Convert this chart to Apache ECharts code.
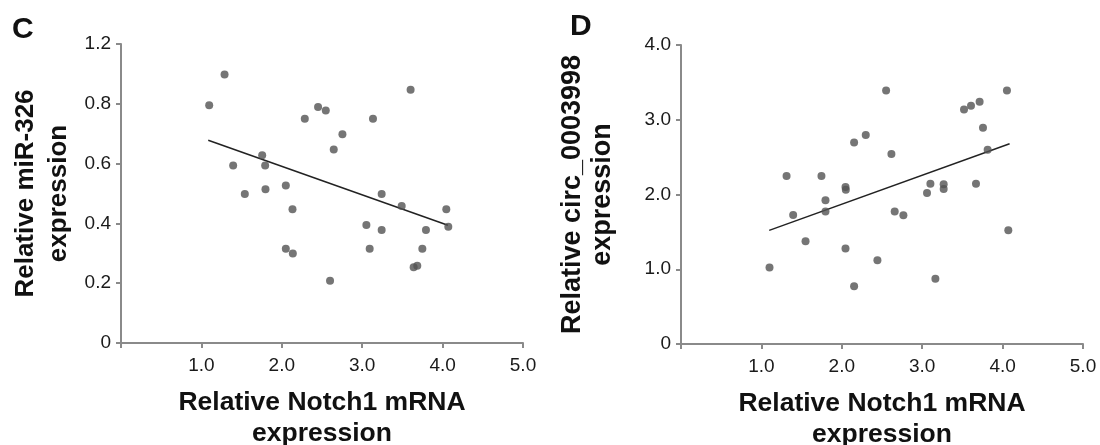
<!DOCTYPE html>
<html>
<head>
<meta charset="utf-8">
<script src="https://cdn.jsdelivr.net/npm/echarts@6/dist/echarts.min.js"></script>
<style>
html,body{margin:0;padding:0;background:#fff;}
#chart{width:1100px;height:445px;}
</style>
</head>
<body>
<div id="chart"></div>
<script>
// Panel C: Notch1 mRNA (x) vs miR-326 (y)
var pointsC = [
  [1.097,0.795],[1.288,0.898],[1.395,0.594],[1.540,0.498],[1.756,0.628],
  [1.793,0.594],[1.797,0.514],[2.050,0.527],[2.133,0.447],[2.050,0.315],
  [2.137,0.299],[2.286,0.750],[2.451,0.789],[2.547,0.778],[2.600,0.208],
  [2.646,0.647],[2.754,0.698],[3.052,0.395],[3.093,0.315],[3.134,0.750],
  [3.242,0.498],[3.242,0.378],[3.491,0.458],[3.602,0.847],[3.640,0.253],
  [3.685,0.258],[3.748,0.315],[3.793,0.378],[4.046,0.447],[4.071,0.389]
];
var trendC = [[1.085,0.678],[4.066,0.394]];
// Panel D: Notch1 mRNA (x) vs circ_0003998 (y)
var pointsD = [
  [1.101,1.024],[1.313,2.247],[1.395,1.727],[1.549,1.375],[1.747,2.247],
  [1.797,1.923],[1.797,1.771],[2.046,2.100],[2.050,2.065],[2.046,1.277],
  [2.153,2.697],[2.153,0.774],[2.298,2.795],[2.443,1.121],[2.551,3.391],
  [2.617,2.541],[2.658,1.771],[2.766,1.722],[3.060,2.020],[3.102,2.145],
  [3.164,0.872],[3.267,2.136],[3.267,2.074],[3.520,3.138],[3.607,3.187],
  [3.714,3.240],[3.669,2.145],[3.756,2.893],[3.814,2.599],[4.054,3.391],
  [4.071,1.522]
];
var trendD = [[1.097,1.52],[4.087,2.68]];

// Tick labels as printed in the figure
var xTickLabels = ['', '1.0', '2.0', '3.0', '4.0', '5.0'];
var yTickLabelsC = ['0', '0.2', '0.4', '0.6', '0.8', '1.2'];
var yTickLabelsD = ['0', '1.0', '2.0', '3.0', '4.0'];

var xTitle = 'Relative Notch1 mRNA\nexpression';
var yTitleC = 'Relative miR-326\nexpression';
var yTitleD = 'Relative circ_0003998\nexpression';
var panelLabels = ['C', 'D'];

var FONT = '"Liberation Sans", Arial, sans-serif';
var AXIS_COLOR = '#8a8a8a';
var DOT_COLOR = '#525252';

function xAxisCfg(gridIndex) {
  return {
    gridIndex: gridIndex, type: 'value', min: 0, max: 5, interval: 1,
    axisLine: {show: true, onZero: false, lineStyle: {color: AXIS_COLOR, width: 2}},
    axisTick: {show: true, inside: false, length: 5, lineStyle: {color: AXIS_COLOR, width: 2}},
    splitLine: {show: false},
    axisLabel: {
      color: '#1a1a1a', fontSize: 19, fontFamily: FONT, margin: 13,
      formatter: function (v) { return xTickLabels[Math.round(v)]; }
    },
    name: xTitle, nameLocation: 'middle', nameGap: 44,
    nameTextStyle: {color: '#111', fontSize: 26.5, fontWeight: 'bold', fontFamily: FONT, lineHeight: 31}
  };
}

function yAxisCfg(gridIndex, max, interval, labels, title, gap, fs, lh) {
  return {
    gridIndex: gridIndex, type: 'value', min: 0, max: max, interval: interval,
    axisLine: {show: true, onZero: false, lineStyle: {color: AXIS_COLOR, width: 2}},
    axisTick: {show: true, inside: false, length: 5, lineStyle: {color: AXIS_COLOR, width: 2}},
    splitLine: {show: false},
    axisLabel: {
      color: '#1a1a1a', fontSize: 19, fontFamily: FONT, margin: 10,
      formatter: function (v) { return labels[Math.round(v / interval)]; }
    },
    name: title, nameLocation: 'middle', nameGap: gap, nameRotate: 90,
    nameTextStyle: {color: '#111', fontSize: fs, fontWeight: 'bold', fontFamily: FONT, lineHeight: lh}
  };
}

var chart = echarts.init(document.getElementById('chart'), null, {renderer: 'canvas'});
chart.setOption({
  backgroundColor: '#ffffff',
  animation: false,
  grid: [
    {left: 121, top: 44, width: 402, height: 299, containLabel: false, outerBoundsMode: 'none'},
    {left: 681, top: 45, width: 402, height: 299, containLabel: false, outerBoundsMode: 'none'}
  ],
  xAxis: [xAxisCfg(0), xAxisCfg(1)],
  yAxis: [
    yAxisCfg(0, 1.0, 0.2, yTickLabelsC, yTitleC, 46, 26, 33),
    yAxisCfg(1, 4, 1, yTickLabelsD, yTitleD, 63, 27, 30)
  ],
  graphic: [
    {type: 'text', left: 12, top: 15, style: {text: panelLabels[0], font: 'bold 30px ' + FONT, fill: '#111'}},
    {type: 'text', left: 570, top: 12, style: {text: panelLabels[1], font: 'bold 30px ' + FONT, fill: '#111'}}
  ],
  series: [
    {type: 'scatter', xAxisIndex: 0, yAxisIndex: 0, data: pointsC, symbolSize: 8,
     itemStyle: {color: DOT_COLOR}, z: 3},
    {type: 'line', xAxisIndex: 0, yAxisIndex: 0, data: trendC, symbol: 'none',
     lineStyle: {color: '#222', width: 1.5}, z: 2},
    {type: 'scatter', xAxisIndex: 1, yAxisIndex: 1, data: pointsD, symbolSize: 8,
     itemStyle: {color: DOT_COLOR}, z: 3},
    {type: 'line', xAxisIndex: 1, yAxisIndex: 1, data: trendD, symbol: 'none',
     lineStyle: {color: '#222', width: 1.5}, z: 2}
  ]
});
</script>
</body>
</html>
